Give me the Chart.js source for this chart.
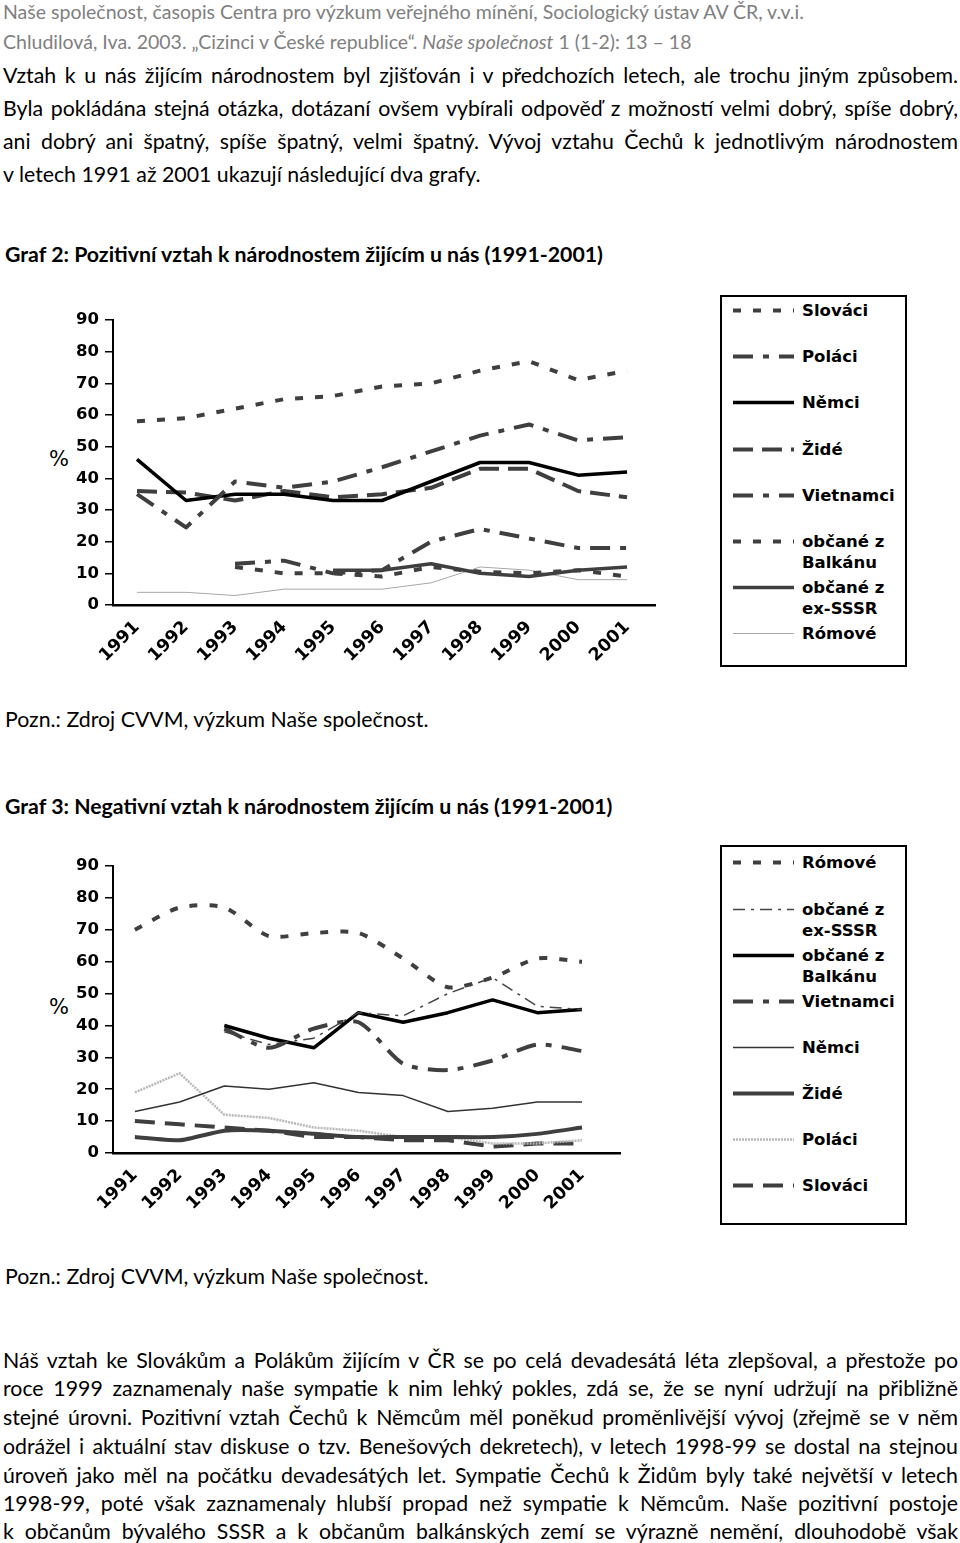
<!DOCTYPE html>
<html lang="cs">
<head>
<meta charset="utf-8">
<title>Graf 2 a Graf 3</title>
<script src="https://cdn.jsdelivr.net/npm/chart.js@4.4.1/dist/chart.umd.min.js"></script>
<style>
  html, body { margin: 0; padding: 0; background: #fff; }
  body { width: 960px; height: 1543px; position: relative; overflow: hidden;
         font-family: Lato, "Open Sans", sans-serif; color: #000; }
  .r { position: absolute; left: 3px; width: 955px; height: 26px; line-height: 26px; white-space: nowrap; font-size: 21.3px; }
  .hl { color: #808080; font-size: 19.5px; }
  .j { text-align: justify; text-align-last: justify; white-space: normal; }
  .b { font-weight: bold; left: 5px; }
  .pct { position: absolute; left: 49px; font-family: "DejaVu Sans", sans-serif; font-size: 21px; }
  .graf { position: absolute; }
  .legenda { position: absolute; left: 720px; width: 183px; border: 2px solid #000; }
  .polozka { position: absolute; left: 11px; height: 21px; }
  .polozka canvas { position: absolute; left: 0; top: 0; }
  .polozka span { position: absolute; left: 69px; top: 0; white-space: pre; line-height: 21px;
                  font-family: "DejaVu Sans", sans-serif; font-weight: bold; font-size: 16.5px; }
</style>
</head>
<body>

<div class="r hl" style="top:-1px">Naše společnost, časopis Centra pro výzkum veřejného mínění, Sociologický ústav AV ČR, v.v.i.</div>
<div class="r hl" style="top:29px">Chludilová, Iva. 2003. „Cizinci v České republice“. <i>Naše společnost</i> 1 (1-2): 13 – 18</div>

<div class="r j" style="top:62px">Vztah k u nás žijícím národnostem byl zjišťován i v předchozích letech, ale trochu jiným způsobem.</div>
<div class="r j" style="top:95px">Byla pokládána stejná otázka, dotázaní ovšem vybírali odpověď z možností velmi dobrý, spíše dobrý,</div>
<div class="r j" style="top:128px">ani dobrý ani špatný, spíše špatný, velmi špatný. Vývoj vztahu Čechů k jednotlivým národnostem</div>
<div class="r" style="top:161px">v letech 1991 až 2001 ukazují následující dva grafy.</div>

<div class="r b" style="top:241px">Graf 2: Pozitivní vztah k národnostem žijícím u nás (1991-2001)</div>
<div class="pct" style="top:447px">%</div>
<canvas id="graf2" class="graf" width="620" height="380" style="left:40px; top:300px"></canvas>
<div id="legenda2" class="legenda" style="top:295px; height:368px"></div>
<div class="r" style="top:706px; left:5px">Pozn.: Zdroj CVVM, výzkum Naše společnost.</div>

<div class="r b" style="top:793px">Graf 3: Negativní vztah k národnostem žijícím u nás (1991-2001)</div>
<div class="pct" style="top:995px">%</div>
<canvas id="graf3" class="graf" width="585" height="374" style="left:40px; top:846px"></canvas>
<div id="legenda3" class="legenda" style="top:845px; height:376px"></div>
<div class="r" style="top:1263px; left:5px">Pozn.: Zdroj CVVM, výzkum Naše společnost.</div>

<div class="r j" style="top:1347px">Náš vztah ke Slovákům a Polákům žijícím v ČR se po celá devadesátá léta zlepšoval, a přestože po</div>
<div class="r j" style="top:1375px">roce 1999 zaznamenaly naše sympatie k nim lehký pokles, zdá se, že se nyní udržují na přibližně</div>
<div class="r j" style="top:1404px">stejné úrovni. Pozitivní vztah Čechů k Němcům měl poněkud proměnlivější vývoj (zřejmě se v něm</div>
<div class="r j" style="top:1433px">odrážel i aktuální stav diskuse o tzv. Benešových dekretech), v letech 1998-99 se dostal na stejnou</div>
<div class="r j" style="top:1462px">úroveň jako měl na počátku devadesátých let. Sympatie Čechů k Židům byly také největší v letech</div>
<div class="r j" style="top:1490px">1998-99, poté však zaznamenaly hlubší propad než sympatie k Němcům. Naše pozitivní postoje</div>
<div class="r j" style="top:1518px">k občanům bývalého SSSR a k občanům balkánských zemí se výrazně nemění, dlouhodobě však</div>

<script>
// roky na ose x
const roky = [1991, 1992, 1993, 1994, 1995, 1996, 1997, 1998, 1999, 2000, 2001];

// Graf 2 - pozitivní vztah (%)
const slovaciPoz   = [58, 59, 62, 65, 66, 69, 70, 74, 77, 71, 74];
const polaciPoz    = [35, 24.5, 39, 37, 39, 43.5, 48.5, 53.5, 57, 52, 53];
const nemciPoz     = [46, 33, 35, 35, 33, 33, 39, 45, 45, 41, 42];
const zidePoz      = [36, 35.5, 33, 36, 34, 35, 37, 43, 43, 36, 34];
const vietnamciPoz = [null, null, 13, 14, 10, 11, 20, 24, 21, 18, 18];
const balkanPoz    = [null, null, 12, 10, 10, 9, 12, 10.5, 10, 11, 9];
const sssrPoz      = [null, null, null, null, 11, 11, 13, 10, 9, 11, 12];
const romovePoz    = [4, 4, 3, 5, 5, 5, 7, 12, 11, 8, 8];

// Graf 3 - negativní vztah (%)
const romoveNeg    = [70, 77, 77, 68, 69, 69, 61, 52, 55, 61, 60];
const sssrNeg      = [null, null, 38, 34, 36, 44, 43, 50, 55, 46, 45];
const balkanNeg    = [null, null, 40, 36, 33, 44, 41, 44, 48, 44, 45];
const vietnamciNeg = [null, null, 39, 33, 39, 41, 28, 26, 29, 34, 32];
const nemciNeg     = [13, 16, 21, 20, 22, 19, 18, 13, 14, 16, 16];
const zideNeg      = [5, 4, 7, 7, 6, 5, 5, 5, 5, 6, 8];
const polaciNeg    = [19, 25, 12, 11, 8, 7, 5, 5, 3, 3, 4];
const slovaciNeg   = [10, 9, 8, 7, 5, 5, 4, 4, 2, 3, 3];

const tmava = "#3f3f3f";

// převod hodnot na body {x, y}
function body(hodnoty) {
  return roky.map((r, i) => ({ x: r, y: hodnoty[i] }));
}

function rada(label, hodnoty, barva, sirka, carky, tension) {
  return {
    label,
    data: body(hodnoty),
    borderColor: barva,
    borderWidth: sirka,
    borderDash: carky,
    tension: tension || 0,
    pointRadius: 0,
    spanGaps: false,
    fill: false,
  };
}

const pismoOsy = { family: "'DejaVu Sans', sans-serif", weight: "bold", size: 16.5 };
const pismoRoky = { family: "'DejaVu Sans', sans-serif", weight: "bold", size: 17.5 };

function vytvorGraf(id, datasets, xMin, xMax, vyskaOsyX) {
  return new Chart(document.getElementById(id), {
    type: "line",
    data: { datasets },
    options: {
      responsive: false,
      animation: false,
      layout: { padding: { top: 20, right: 5, left: 0, bottom: 0 } },
      plugins: { legend: { display: false }, tooltip: { enabled: false } },
      elements: { line: { borderCapStyle: "butt", borderJoinStyle: "round" } },
      scales: {
        x: {
          type: "linear",
          min: xMin,
          max: xMax,
          afterBuildTicks: s => { s.ticks = roky.map(r => ({ value: r })); },
          afterFit: s => { s.height = vyskaOsyX; },
          grid: { display: false },
          border: { color: "#000", width: 2.5 },
          ticks: {
            autoSkip: false, minRotation: 45, maxRotation: 45, padding: 4,
            color: "#000", font: pismoRoky,
            callback: v => String(v),
          },
        },
        y: {
          min: 0,
          max: 90,
          afterFit: s => { s.width = 73; },
          grid: { drawOnChartArea: false, drawTicks: true, tickLength: 8, color: "#000", lineWidth: 1.5 },
          border: { color: "#000", width: 2 },
          ticks: { stepSize: 10, padding: 6, color: "#000", font: pismoOsy },
        },
      },
    },
  });
}

// legenda vykreslená do HTML podle datových řad grafu
function vykresliLegendu(graf, boxId, pozice) {
  const box = document.getElementById(boxId);
  graf.data.datasets.forEach((ds, i) => {
    const polozka = document.createElement("div");
    polozka.className = "polozka";
    polozka.style.top = (pozice[i] - 10) + "px";
    const c = document.createElement("canvas");
    c.width = 61; c.height = 21;
    const g = c.getContext("2d");
    g.strokeStyle = ds.borderColor;
    g.lineWidth = ds.borderWidth;
    g.setLineDash(ds.borderDash || []);
    g.beginPath(); g.moveTo(0, 10.5); g.lineTo(61, 10.5); g.stroke();
    const txt = document.createElement("span");
    txt.textContent = ds.label;
    polozka.appendChild(c);
    polozka.appendChild(txt);
    box.appendChild(polozka);
  });
}

const graf2 = vytvorGraf("graf2", [
  rada("Slováci", slovaciPoz, tmava, 4, [8, 12]),
  rada("Poláci", polaciPoz, tmava, 4, [20, 10, 6, 10]),
  rada("Němci", nemciPoz, "#000", 3.5, []),
  rada("Židé", zidePoz, tmava, 4, [20, 9]),
  rada("Vietnamci", vietnamciPoz, tmava, 4, [20, 10, 6, 10]),
  rada("občané z\nBalkánu", balkanPoz, tmava, 4, [8, 12]),
  rada("občané z\nex-SSSR", sssrPoz, tmava, 3.5, []),
  rada("Rómové", romovePoz, "#a8a8a8", 1, []),
], 1990.51, 2001.57, 75);

const graf3 = vytvorGraf("graf3", [
  rada("Rómové", romoveNeg, tmava, 4, [8, 12], 0.25),
  rada("občané z\nex-SSSR", sssrNeg, "#444", 1.5, [12, 6, 3, 6]),
  rada("občané z\nBalkánu", balkanNeg, "#000", 3.5, []),
  rada("Vietnamci", vietnamciNeg, tmava, 4, [20, 10, 6, 10], 0.25),
  rada("Němci", nemciNeg, "#333", 1.5, []),
  rada("Židé", zideNeg, tmava, 4, [], 0.2),
  rada("Poláci", polaciNeg, "#b8b8b8", 2.5, [2, 1]),
  rada("Slováci", slovaciNeg, tmava, 4, [20, 10]),
], 1990.51, 2001.85, 67);

vykresliLegendu(graf2, "legenda2", [13, 59, 105, 152, 198, 244, 290, 336]);
vykresliLegendu(graf3, "legenda3", [15, 62, 108, 154, 200, 246, 292, 338]);
</script>
</body>
</html>
